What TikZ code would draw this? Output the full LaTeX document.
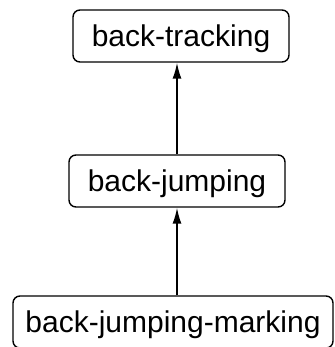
\documentclass[tikz,border=0pt]{standalone}
\usepackage{fontspec}
\setmainfont{Liberation Sans}
\usetikzlibrary{arrows.meta}

\begin{document}
\begin{tikzpicture}[->, >={Latex[length=16pt,width=9pt]}, line width=1.6pt, node distance=145pt]
\tikzstyle{every node}=[draw=black,line width=1.4pt,rounded corners=7pt,minimum width=216pt,minimum height=52pt,text height=22pt,text depth=1pt,font=\fontsize{30pt}{34pt}\selectfont]
\path[use as bounding box,clip] (0,0) rectangle (334pt,-347pt);
\node    (A) at (181pt,-36pt)                 {back-tracking};
\node    (B)[below of=A, xshift=-4pt]        {back-jumping};
\node    (C)[below of=B, xshift=-4pt, node distance=141pt, minimum width=320pt]  {back-jumping-marking};
\path
(B.north) edge          (B.north |- A.south)
(C.north -| B.south) edge  (B.south);
\end{tikzpicture}
\end{document}
